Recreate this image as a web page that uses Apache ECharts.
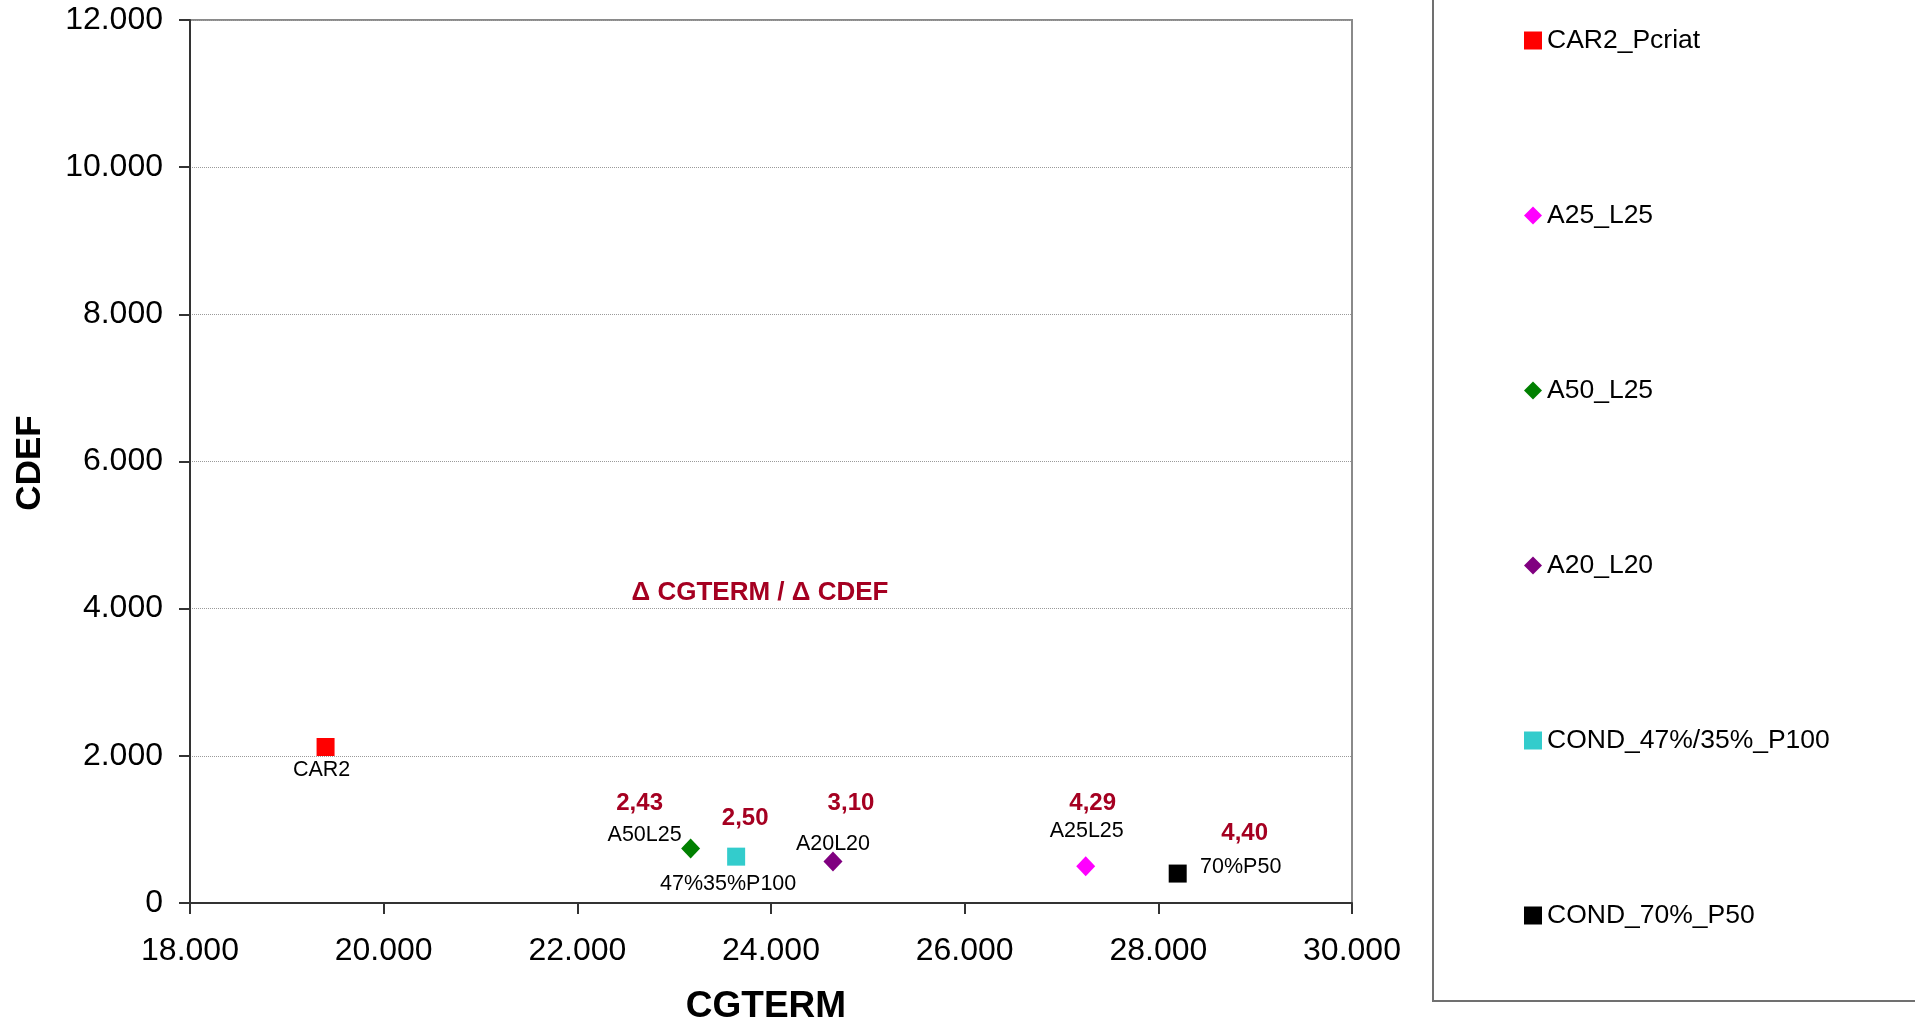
<!DOCTYPE html>
<html>
<head>
<meta charset="utf-8">
<script src="https://cdn.jsdelivr.net/npm/echarts@6/dist/echarts.min.js"></script>
<style>
html,body{margin:0;padding:0;background:#fff;}
#chart{width:1915px;height:1023px;}
</style>
</head>
<body>
<div id="chart"></div>
<script>
// ---- data ----
const seriesNames = ['CAR2_Pcriat', 'A25_L25', 'A50_L25', 'A20_L20', 'COND_47%/35%_P100', 'COND_70%_P50'];
const pointLabels = ['CAR2', 'A25L25', 'A50L25', 'A20L20', '47%35%P100', '70%P50'];
const cgterm = [19400, 27250, 23170, 24640, 23640, 28200];
const cdef = [2120, 500, 740, 565, 630, 400];
const ratioLabels = ['', '4,29', '2,43', '3,10', '2,50', '4,40'];
const xTickLabels = ['18.000', '20.000', '22.000', '24.000', '26.000', '28.000', '30.000'];
const yTickLabels = ['0', '2.000', '4.000', '6.000', '8.000', '10.000', '12.000'];
const xAxisTitle = 'CGTERM';
const yAxisTitle = 'CDEF';
const annotation = '\u0394 CGTERM / \u0394 CDEF';

// ---- styles ----
const FONT = '"Liberation Sans", Arial, sans-serif';
const colors = ['#FF0000', '#FF00FF', '#008000', '#800080', '#33CCCC', '#000000'];
const symbols = ['rect', 'diamond', 'diamond', 'diamond', 'rect', 'rect'];
const nameOffsets = [[-4, 23], [1, -35], [-46, -13], [0, -17], [-8, 27], [63, -6]];
const ratioOffsets = [[0, 0], [7, -63], [-51, -45], [18, -58], [9, -38], [67, -40]];
const legendCenters = [40, 215, 390, 565, 740, 915];
const ratioColor = '#A50021';

const chart = echarts.init(document.getElementById('chart'));

const series = seriesNames.map((name, i) => {
  const s = {
    name: name,
    type: 'scatter',
    symbol: symbols[i],
    symbolSize: symbols[i] === 'rect' ? [18, 18] : [19, 20],
    itemStyle: { color: colors[i], opacity: 1 },
    data: [[cgterm[i], cdef[i]]],
    label: {
      show: true,
      position: 'inside',
      offset: nameOffsets[i],
      formatter: pointLabels[i],
      color: '#000',
      fontFamily: FONT,
      fontSize: 21.5
    },
    emphasis: { disabled: true },
    z: 3
  };
  if (ratioLabels[i]) {
    s.markPoint = {
      symbol: 'circle',
      symbolSize: 1,
      itemStyle: { color: 'rgba(0,0,0,0)' },
      silent: true,
      data: [{ coord: [cgterm[i], cdef[i]] }],
      label: {
        show: true,
        position: 'inside',
        offset: ratioOffsets[i],
        formatter: ratioLabels[i],
        color: ratioColor,
        fontFamily: FONT,
        fontWeight: 'bold',
        fontSize: 24
      }
    };
  }
  return s;
});

const legends = seriesNames.map((name, i) => ({
  orient: 'vertical',
  left: 1524,
  top: legendCenters[i] - 13,
  padding: 0,
  itemWidth: 18,
  itemHeight: 18,
  itemGap: 0,
  selectedMode: false,
  data: [{ name: name, icon: symbols[i] }],
  textStyle: { fontFamily: FONT, fontSize: 26.5, color: '#000' }
}));

const option = {
  backgroundColor: '#ffffff',
  animation: false,
  grid: {
    left: 190, right: 563, top: 20, bottom: 120,
    containLabel: false,
    outerBoundsMode: 'none',
    show: true, borderColor: '#8a8a8a', borderWidth: 2, backgroundColor: 'transparent'
  },
  legend: legends,
  xAxis: {
    type: 'value',
    min: 18000, max: 30000, interval: 2000,
    name: xAxisTitle,
    nameLocation: 'middle',
    nameGap: 85,
    nameTextStyle: { fontFamily: FONT, fontSize: 37, fontWeight: 'bold', color: '#000', padding: [0, 10, 0, 0] },
    axisLine: { show: true, onZero: false, lineStyle: { color: '#333', width: 2 } },
    axisTick: { show: true, length: 11, lineStyle: { color: '#333', width: 2 } },
    axisLabel: {
      margin: 32,
      fontFamily: FONT, fontSize: 32, color: '#000',
      formatter: v => xTickLabels[Math.round((v - 18000) / 2000)]
    },
    splitLine: { show: false }
  },
  yAxis: {
    type: 'value',
    min: 0, max: 12000, interval: 2000,
    axisLine: { show: true, onZero: false, lineStyle: { color: '#333', width: 2 } },
    axisTick: { show: true, length: 11, lineStyle: { color: '#333', width: 2 } },
    axisLabel: {
      margin: 27,
      fontFamily: FONT, fontSize: 32, color: '#000',
      formatter: v => yTickLabels[Math.round(v / 2000)]
    },
    splitLine: { show: true, lineStyle: { color: '#9a9a9a', width: 1, type: 'dotted' } }
  },
  graphic: [
    {
      type: 'rect',
      shape: { x: 1433, y: -10, width: 600, height: 1011 },
      style: { fill: 'none', stroke: '#707070', lineWidth: 2 },
      silent: true
    },
    {
      type: 'text',
      x: 30.5, y: 463,
      rotation: Math.PI / 2,
      style: {
        text: yAxisTitle,
        font: 'bold 35px ' + FONT,
        fill: '#000',
        align: 'center',
        verticalAlign: 'middle'
      },
      silent: true
    },
    {
      type: 'text',
      x: 760, y: 593,
      style: {
        text: annotation,
        font: 'bold 26px ' + FONT,
        fill: ratioColor,
        align: 'center',
        verticalAlign: 'middle'
      },
      silent: true
    }
  ],
  series: series
};

chart.setOption(option);
</script>
</body>
</html>
